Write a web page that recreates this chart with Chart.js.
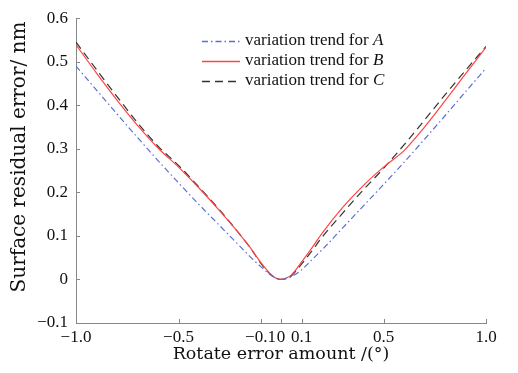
<!DOCTYPE html>
<html><head><meta charset="utf-8">
<script src="https://cdn.jsdelivr.net/npm/chart.js@4/dist/chart.umd.min.js"></script>
<style>html,body{margin:0;padding:0;background:#fff}#wrap{width:518px;height:373px}</style>
</head><body><div id="wrap"><canvas id="c" width="518" height="373"></canvas></div>
<script>
const xValues = [-1,-0.9,-0.8,-0.7,-0.6,-0.5,-0.4,-0.3,-0.2,-0.15,-0.1,-0.05,-0.025,0,0.025,0.05,0.1,0.15,0.2,0.3,0.4,0.5,0.6,0.7,0.8,0.9,1];
const seriesA = [0.49,0.435,0.38,0.326,0.273,0.222,0.172,0.124,0.076,0.052,0.03,0.01,0.003,0,0.002,0.006,0.022,0.045,0.068,0.118,0.168,0.218,0.269,0.322,0.376,0.431,0.485];
const seriesB = [0.539,0.474,0.412,0.354,0.302,0.258,0.21,0.158,0.103,0.073,0.04,0.012,0.003,0,0.003,0.01,0.04,0.072,0.106,0.165,0.215,0.258,0.296,0.35,0.41,0.472,0.533];
const seriesC = [0.545,0.482,0.42,0.36,0.306,0.262,0.212,0.16,0.103,0.073,0.038,0.011,0.003,0,0.002,0.008,0.035,0.065,0.097,0.152,0.205,0.255,0.309,0.366,0.424,0.48,0.535];
const seriesNames = ['variation trend for ', 'variation trend for ', 'variation trend for '];
const seriesLetters = ['A','B','C'];
const xTickValues = [-1,-0.5,-0.1,0,0.1,0.5,1];
const xTickLabels = ['\u22121.0','\u22120.5','\u22120.1','0','0.1','0.5','1.0'];
const yTickValues = [-0.1,0,0.1,0.2,0.3,0.4,0.5,0.6];
const yTickLabels = ['\u22120.1','0','0.1','0.2','0.3','0.4','0.5','0.6'];
const xTitle = 'Rotate error amount /(\u00b0)';
const yTitle = 'Surface residual error/ nm';

const colors = ['#5a6fd3','#ff4444','#333333'];
const dashes = [[6,3,1.5,3],[],[8,5]];
const allSeries = [seriesA, seriesB, seriesC];
const tickFont = {family:'Liberation Serif', size:17};

const datasets = allSeries.map((s,i)=>({
  label: seriesNames[i]+seriesLetters[i],
  data: xValues.map((x,j)=>({x:x,y:s[j]})),
  borderColor: colors[i], borderWidth: 1.2, borderDash: dashes[i],
  pointRadius: 0, fill:false, cubicInterpolationMode:'monotone'
}));

const extras = {
  id:'extras',
  afterDraw(chart){
    const ctx = chart.ctx, xs = chart.scales.x, ys = chart.scales.y, a = chart.chartArea;
    ctx.save(); ctx.strokeStyle='#888'; ctx.lineWidth=1;
    ctx.beginPath();
    xTickValues.forEach(v=>{const p=Math.round(xs.getPixelForValue(v))+0.5; ctx.moveTo(p,a.bottom); ctx.lineTo(p,a.bottom-4);});
    yTickValues.forEach(v=>{const p=Math.round(ys.getPixelForValue(v))+0.5; ctx.moveTo(a.left,p); ctx.lineTo(a.left+4,p);});
    ctx.stroke();
    // y axis title
    ctx.save();
    ctx.translate(20, 157); ctx.rotate(-Math.PI/2);
    ctx.fillStyle='#111'; ctx.textAlign='center'; ctx.textBaseline='middle';
    ctx.font='20px "DejaVu Serif"';
    ctx.fillText(yTitle, 0, 0);
    ctx.restore();
    // legend
    const lx0=202, lx1=240, tx=245, ys0=[41,61,81];
    allSeries.forEach((s,i)=>{
      const y=ys0[i];
      ctx.strokeStyle=colors[i]; ctx.lineWidth=1.3; ctx.setLineDash(dashes[i]);
      ctx.beginPath(); ctx.moveTo(lx0,y+0.5); ctx.lineTo(lx1,y+0.5); ctx.stroke();
      ctx.setLineDash([]);
      ctx.fillStyle='#111'; ctx.textBaseline='middle'; ctx.textAlign='left';
      ctx.font='17px "Liberation Serif"';
      ctx.fillText(seriesNames[i], tx, y);
      const w=ctx.measureText(seriesNames[i]).width;
      ctx.font='italic 17px "Liberation Serif"';
      ctx.fillText(seriesLetters[i], tx+w, y);
    });
    ctx.restore();
  }
};

new Chart(document.getElementById('c'),{
  type:'line',
  data:{datasets},
  options:{
    responsive:false, animation:false, devicePixelRatio:1,
    layout:{padding:{left:0,right:32,top:16,bottom:8}},
    plugins:{legend:{display:false}, tooltip:{enabled:false}},
    scales:{
      x:{type:'linear', min:-1, max:1,
        afterBuildTicks(sc){sc.ticks = xTickValues.map(v=>({value:v}));},
        afterFit(sc){sc.height=42;},
        grid:{display:false, drawTicks:false},
        border:{display:true,color:'#888',width:1},
        ticks:{autoSkip:false, maxRotation:0, padding:4, color:'#111', font:tickFont,
          callback:(v)=>{const i=xTickValues.findIndex(t=>Math.abs(t-v)<1e-9); return i>=0?xTickLabels[i]:'';}},
        title:{display:true, text:xTitle, color:'#111', font:{family:'DejaVu Serif', size:17.5}, padding:{top:0,bottom:0}}
      },
      y:{type:'linear', min:-0.1, max:0.6,
        afterBuildTicks(sc){sc.ticks = yTickValues.map(v=>({value:v}));},
        afterFit(sc){sc.width=76;},
        grid:{display:false, drawTicks:false},
        border:{display:true,color:'#888',width:1},
        ticks:{autoSkip:false, padding:8, color:'#111', font:tickFont,
          callback:(v)=>{const i=yTickValues.findIndex(t=>Math.abs(t-v)<1e-9); return i>=0?yTickLabels[i]:'';}},
        title:{display:false}
      }
    }
  },
  plugins:[extras]
});
</script></body></html>
